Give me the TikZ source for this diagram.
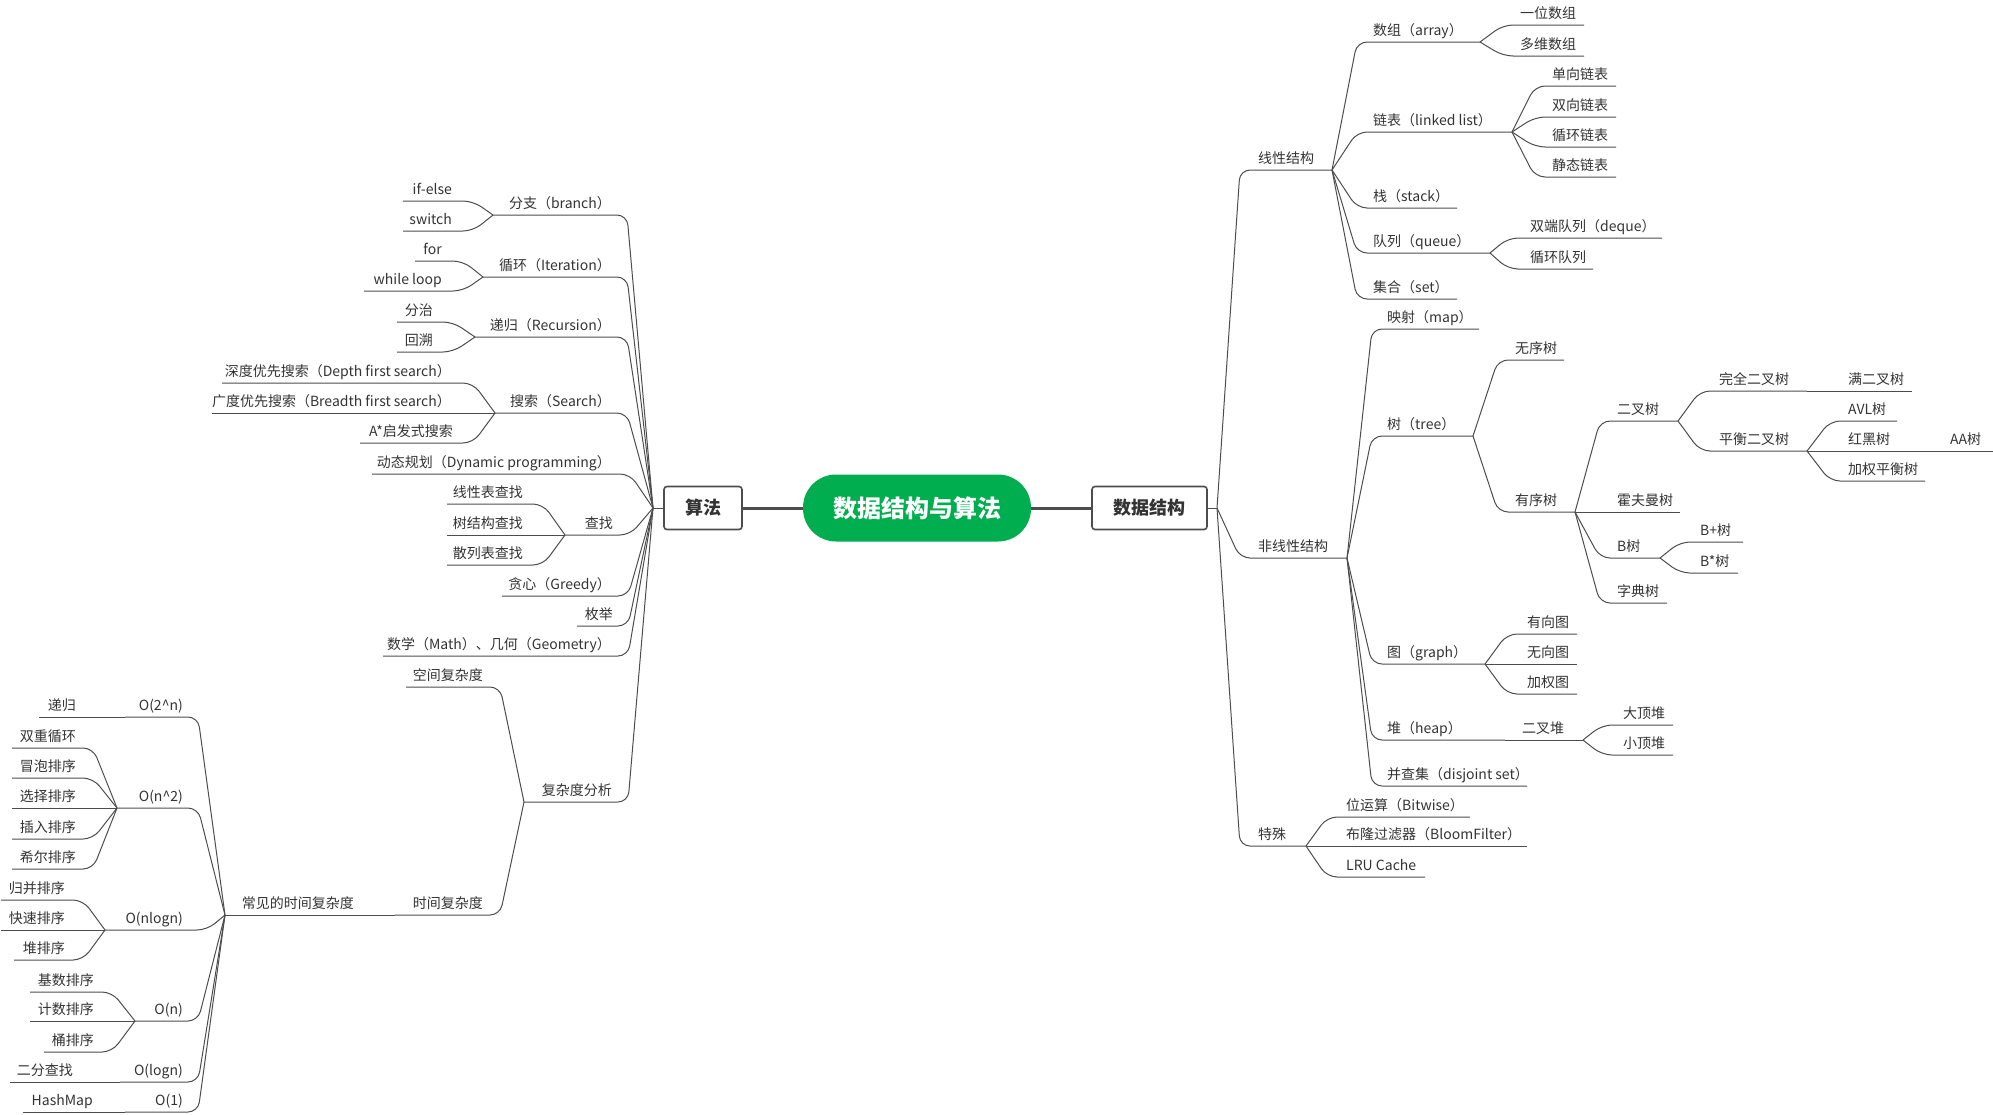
\documentclass[tikz,border=0pt]{standalone}
\usepackage{fontspec}
\setmainfont{Noto Sans CJK SC}
\definecolor{lnc}{HTML}{4D4D4D}
\definecolor{txc}{HTML}{333333}
\definecolor{grn}{HTML}{00AE50}
\tikzset{
  lbl/.style={inner sep=0pt, text=txc, font=\fontsize{14}{16}\selectfont},
  conn/.style={draw=lnc, line width=1pt, rounded corners=10pt},
  straightline/.style={draw=lnc, line width=1pt},
  mainbox/.style={draw=lnc, line width=1.6pt, fill=white, rounded corners=3pt,
    font=\fontsize{18}{20}\selectfont\bfseries, text=txc, minimum height=43pt, inner sep=0pt},
  rootbox/.style={fill=grn, rounded corners=33pt, minimum width=228pt, minimum height=67pt,
    inner sep=0pt, text=white, font=\fontsize{24}{28}\selectfont\bfseries},
  trunk/.style={draw=lnc, line width=3pt},
}
\newcommand\mmR[6]{\coordinate (#1-i) at (#2,#4);\coordinate (#1-o) at (#3,#4);
  \node[lbl,anchor=base west] (#1) at (#5,#4-7) {#6};}
\newcommand\mmL[6]{\coordinate (#1-i) at (#2,#4);\coordinate (#1-o) at (#3,#4);
  \node[lbl,anchor=base east] (#1) at (#5,#4-7) {#6};}
\begin{document}
\begin{tikzpicture}[x=1pt,y=-1pt]
\useasboundingbox (0,0) rectangle (1993,1114);
% centre
\node[rootbox] (root) at (917,508) {数据结构与算法};
\node[mainbox, minimum width=78pt] (alg) at (703,508) {算法};
\node[mainbox, minimum width=115pt] (ds) at (1149.5,508) {数据结构};
\coordinate (alg-o) at (653,508);
\coordinate (ds-o) at (1217,508);
\draw[trunk] (root.west) -- (alg.east);
\draw[trunk] (root.east) -- (ds.west);
\draw[straightline] (alg.west) -- (alg-o);
\draw[straightline] (ds.east) -- (ds-o);
% right side
\mmR{ls}{1240}{1332}{170}{1258}{线性结构}
\mmR{arr}{1357}{1480}{42}{1373}{数组（array）}
\mmR{a1}{1503}{1584}{25}{1520}{一位数组}
\mmR{a2}{1503}{1584}{56}{1520}{多维数组}
\mmR{ll}{1357}{1512}{132}{1373}{链表（linked list）}
\mmR{l1}{1535}{1616}{86}{1552}{单向链表}
\mmR{l2}{1535}{1616}{117}{1552}{双向链表}
\mmR{l3}{1535}{1616}{147}{1552}{循环链表}
\mmR{l4}{1535}{1616}{177}{1552}{静态链表}
\mmR{st}{1357}{1457}{208}{1373}{栈（stack）}
\mmR{qu}{1357}{1490}{253}{1373}{队列（queue）}
\mmR{q1}{1508}{1662}{238}{1530}{双端队列（deque）}
\mmR{q2}{1508}{1593}{269}{1530}{循环队列}
\mmR{se}{1357}{1457}{299}{1373}{集合（set）}
\mmR{nl}{1240}{1347}{558}{1258}{非线性结构}
\mmR{mp}{1372}{1479}{329}{1387}{映射（map）}
\mmR{tr}{1372}{1473}{436}{1387}{树（tree）}
\mmR{t1}{1498}{1564}{360}{1515}{无序树}
\mmR{t2}{1498}{1575}{512}{1515}{有序树}
\mmR{bt}{1600}{1678}{421}{1617}{二叉树}
\mmR{cbt}{1700}{1807}{391}{1719}{完全二叉树}
\mmR{fbt}{1807}{1912}{391}{1848}{满二叉树}
\mmR{bal}{1700}{1807}{451}{1719}{平衡二叉树}
\mmR{avl}{1830}{1897}{421}{1848}{AVL树}
\mmR{rb}{1807}{1920}{451}{1848}{红黑树}
\mmR{aa}{1920}{1993}{451}{1950}{AA树}
\mmR{wb}{1830}{1925}{481}{1848}{加权平衡树}
\mmR{hf}{1575}{1680}{512}{1617}{霍夫曼树}
\mmR{btr}{1600}{1660}{558}{1617}{B树}
\mmR{bp}{1680}{1743}{542}{1700}{B+树}
\mmR{bs}{1680}{1738}{573}{1700}{B*树}
\mmR{tt}{1600}{1667}{603}{1617}{字典树}
\mmR{gr}{1372}{1485}{664}{1387}{图（graph）}
\mmR{g1}{1507}{1577}{634}{1527}{有向图}
\mmR{g2}{1485}{1577}{664}{1527}{无向图}
\mmR{g3}{1507}{1577}{694}{1527}{加权图}
\mmR{hp}{1372}{1505}{740}{1387}{堆（heap）}
\mmR{bh}{1505}{1583}{740}{1522}{二叉堆}
\mmR{h1}{1602}{1673}{725}{1623}{大顶堆}
\mmR{h2}{1602}{1673}{755}{1623}{小顶堆}
\mmR{dj}{1372}{1527}{786}{1387}{并查集（disjoint set）}
\mmR{sp}{1240}{1306}{846}{1258}{特殊}
\mmR{bw}{1327}{1470}{817}{1346}{位运算（Bitwise）}
\mmR{bf}{1306}{1527}{846}{1346}{布隆过滤器（BloomFilter）}
\mmR{lru}{1327}{1425}{877}{1346}{LRU Cache}
% left side
\mmL{br}{627}{493}{215}{611}{分支（branch）}
\mmL{ie}{473}{403}{201}{452}{if-else}
\mmL{sw}{473}{403}{231}{452}{switch}
\mmL{it}{627}{483}{277}{611}{循环（Iteration）}
\mmL{fo}{463}{415}{261}{442}{for}
\mmL{wl}{463}{364}{291}{442}{while loop}
\mmL{re}{627}{475}{337}{611}{递归（Recursion）}
\mmL{dc}{453}{397}{322}{433}{分治}
\mmL{bk}{453}{397}{352}{433}{回溯}
\mmL{sr}{627}{495}{413}{611}{搜索（Search）}
\mmL{dfs}{473}{222}{383}{451}{深度优先搜索（Depth first search）}
\mmL{bfs}{495}{212}{413}{451}{广度优先搜索（Breadth first search）}
\mmL{ast}{473}{360}{443}{453}{A*启发式搜索}
\mmL{dp}{630}{372}{474}{611}{动态规划（Dynamic programming）}
\mmL{fd}{630}{565}{535}{613}{查找}
\mmL{f1}{543}{447}{504}{523}{线性表查找}
\mmL{f2}{565}{447}{535}{523}{树结构查找}
\mmL{f3}{543}{447}{565}{523}{散列表查找}
\mmL{gd}{628}{502}{596}{611}{贪心（Greedy）}
\mmL{en}{628}{577}{626}{613}{枚举}
\mmL{mg}{628}{383}{656}{611}{数学（Math）、几何（Geometry）}
\mmL{cx}{628}{524}{802}{612}{复杂度分析}
\mmL{spc}{500}{406}{687}{483}{空间复杂度}
\mmL{tim}{500}{395}{915}{483}{时间复杂度}
\mmL{com}{395}{225}{915}{354}{常见的时间复杂度}
\mmL{o2n}{198}{125}{717}{183}{O(2\textasciicircum n)}
\mmL{rc}{125}{39}{717}{76}{递归}
\mmL{on2}{198}{117}{808}{183}{O(n\textasciicircum 2)}
\mmL{s1}{93}{12}{748}{76}{双重循环}
\mmL{s2}{93}{12}{778}{76}{冒泡排序}
\mmL{s3}{117}{12}{808}{76}{选择排序}
\mmL{s4}{93}{12}{839}{76}{插入排序}
\mmL{s5}{93}{12}{869}{76}{希尔排序}
\mmL{onl}{207}{105}{930}{183}{O(nlogn)}
\mmL{m1}{83}{1}{900}{65}{归并排序}
\mmL{m2}{105}{1}{930}{65}{快速排序}
\mmL{m3}{83}{14}{960}{65}{堆排序}
\mmL{on}{198}{135}{1021}{183}{O(n)}
\mmL{r1}{112}{30}{992}{94}{基数排序}
\mmL{r2}{135}{30}{1021}{94}{计数排序}
\mmL{r3}{112}{44}{1052}{94}{桶排序}
\mmL{ol}{198}{120}{1082}{183}{O(logn)}
\mmL{bsr}{120}{10}{1082}{73}{二分查找}
\mmL{o1}{198}{125}{1112}{183}{O(1)}
\mmL{hm}{125}{23}{1112}{93}{HashMap}
% curved connectors
\foreach \p/\c in {ds/ls,ds/nl,ds/sp,ls/arr,ls/ll,ls/st,ls/qu,ls/se,arr/a1,arr/a2,
  ll/l1,ll/l2,ll/l3,ll/l4,qu/q1,qu/q2,nl/mp,nl/tr,nl/gr,nl/hp,nl/dj,tr/t1,tr/t2,
  t2/bt,t2/btr,t2/tt,bt/cbt,bt/bal,bal/avl,bal/wb,btr/bp,btr/bs,gr/g1,gr/g3,
  bh/h1,bh/h2,sp/bw,sp/lru,
  alg/br,alg/it,alg/re,alg/sr,alg/dp,alg/fd,alg/gd,alg/en,alg/mg,alg/cx,
  br/ie,br/sw,it/fo,it/wl,re/dc,re/bk,sr/dfs,sr/ast,fd/f1,fd/f3,cx/spc,cx/tim,
  com/o2n,com/on2,com/onl,com/on,com/ol,com/o1,on2/s1,on2/s2,on2/s4,on2/s5,
  onl/m1,onl/m3,on/r1,on/r3}
  {\draw[conn] (\p-o) -- (\c-i) -- (\c-o);}
% straight continuations
\foreach \p/\c in {cbt/fbt,bal/rb,rb/aa,t2/hf,gr/g2,hp/bh,sp/bf,sr/bfs,fd/f2,
  tim/com,o2n/rc,on2/s3,onl/m2,on/r2,ol/bsr,o1/hm}
  {\draw[straightline] (\p-o) -- (\c-o);}
\end{tikzpicture}
\end{document}
